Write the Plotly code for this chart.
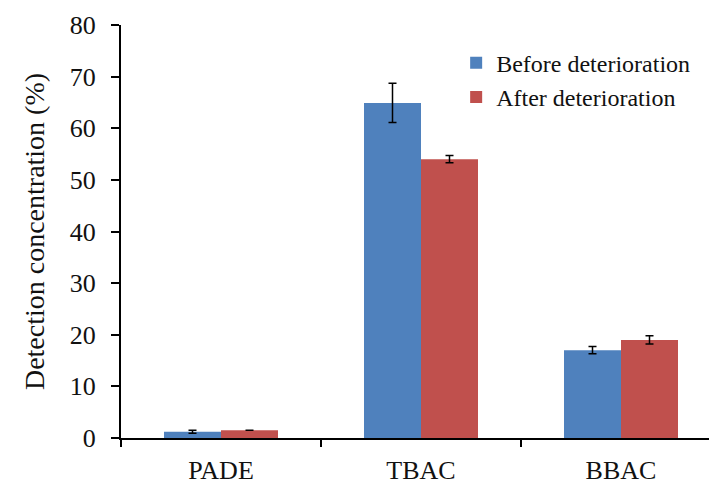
import plotly.graph_objects as go

categories = ["PADE", "TBAC", "BBAC"]
before_vals = [1.2, 64.9, 17.0]
before_err = [0.3, 3.8, 0.7]
after_vals = [1.5, 54.0, 19.0]
after_err = [0.0, 0.7, 0.8]
y_ticks = [0, 10, 20, 30, 40, 50, 60, 70, 80]

font_family = "Liberation Serif, Times New Roman, serif"

fig = go.Figure()
fig.add_trace(go.Bar(
    x=categories, y=before_vals, name="Before deterioration",
    marker=dict(color="#4F81BD", line=dict(width=0)),
    error_y=dict(type="data", array=before_err, visible=True,
                 color="black", thickness=1.5, width=4),
))
fig.add_trace(go.Bar(
    x=categories, y=after_vals, name="After deterioration",
    marker=dict(color="#C0504D", line=dict(width=0)),
    error_y=dict(type="data", array=after_err, visible=True,
                 color="black", thickness=1.5, width=4),
))

fig.update_layout(
    width=709, height=485,
    margin=dict(l=121, r=0, t=25, b=45),
    paper_bgcolor="white", plot_bgcolor="white",
    barmode="group", bargap=0.43, bargroupgap=0,
    font=dict(family=font_family, size=26, color="#111111"),
    legend=dict(x=0.57, y=0.962, xanchor="left", yanchor="top",
                font=dict(size=24, family=font_family),
                bgcolor="rgba(0,0,0,0)", itemwidth=30,
                tracegroupgap=4),
    showlegend=True,
)
fig.update_xaxes(
    type="category", range=[-0.5, 2.44],
    showline=True, linecolor="black", linewidth=2,
    ticks="outside", tickson="boundaries", ticklen=7, tickwidth=2,
    tickcolor="black", showgrid=False, zeroline=False,
    ticklabelstandoff=8,
    tickfont=dict(size=26, family=font_family),
)
fig.update_yaxes(
    range=[0, 80], tickvals=y_ticks,
    showline=True, linecolor="black", linewidth=2,
    ticks="outside", ticklen=8, tickwidth=2, tickcolor="black",
    ticklabelstandoff=10,
    showgrid=False, zeroline=False,
    tickfont=dict(size=26, family=font_family),
    title=dict(text="Detection concentration (%)",
               font=dict(size=28, family=font_family), standoff=17),
)

fig.write_html("out.html")
